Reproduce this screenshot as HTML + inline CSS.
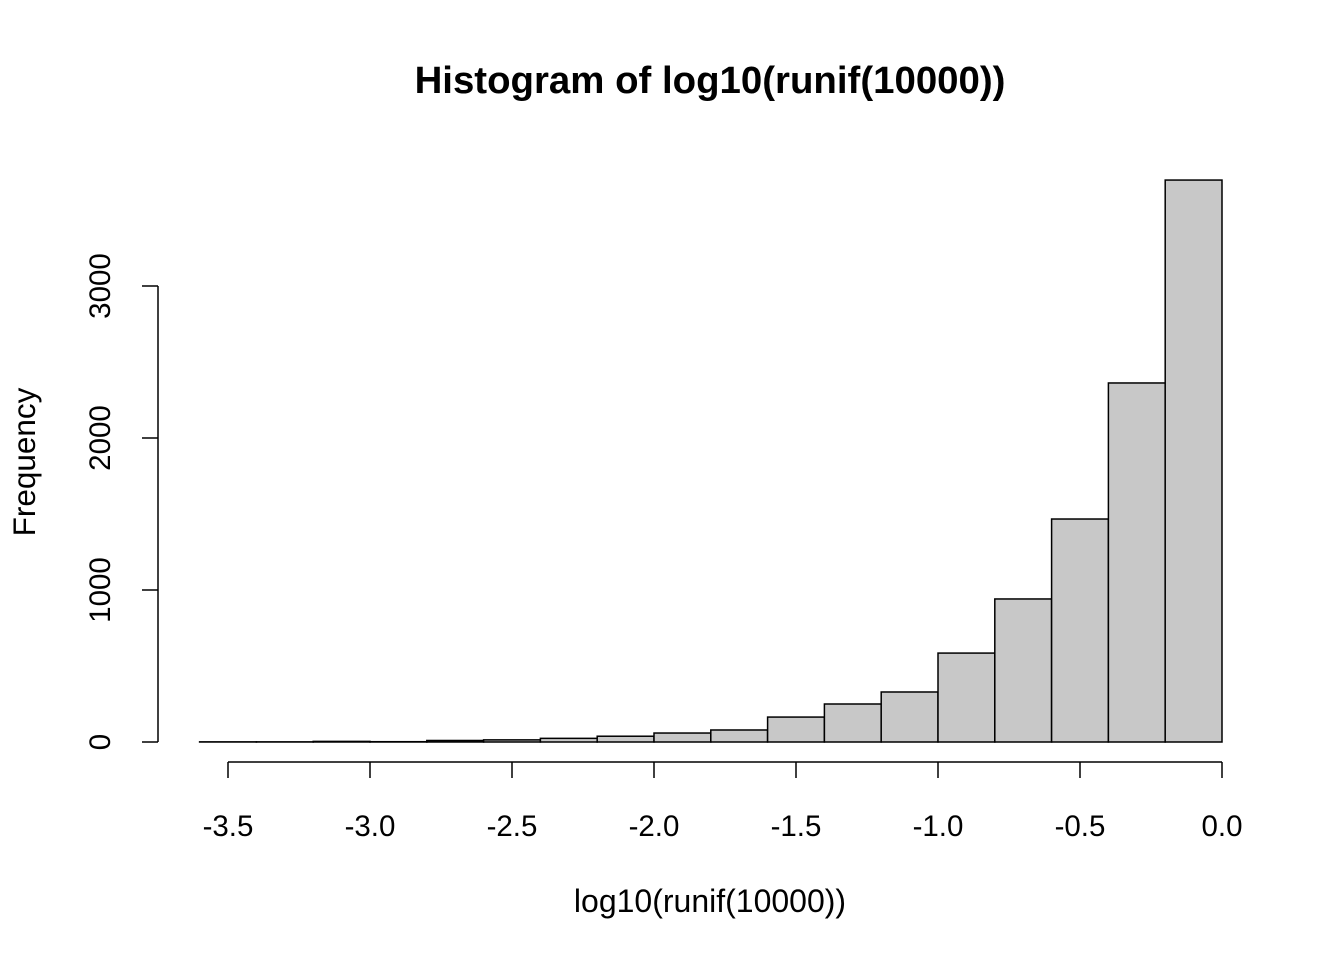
<!DOCTYPE html>
<html><head><meta charset="utf-8"><style>body{margin:0;background:#fff}svg{display:block;font-family:"Liberation Sans",Arial,sans-serif}</style></head>
<body>
<svg id="c" width="1344" height="960">
<text x="710" y="93" text-anchor="middle" font-size="38.4" font-weight="bold">Histogram of log10(runif(10000))</text>
<text x="710" y="912" text-anchor="middle" font-size="32">log10(runif(10000))</text>
<text transform="translate(35,462) rotate(-90)" text-anchor="middle" font-size="31.5">Frequency</text>
<g id="bars"></g><g id="xa"></g><g id="ya"></g>
</svg>
<script>
const breaks=[-3.6,-3.4,-3.2,-3.0,-2.8,-2.6,-2.4,-2.2,-2.0,-1.8,-1.6,-1.4,-1.2,-1.0,-0.8,-0.6,-0.4,-0.2,0];
const counts=[1,1,4,2,10,14,24,38,59,79,164,250,329,585,941,1467,2362,3697];
const xTicks=[-3.5,-3.0,-2.5,-2.0,-1.5,-1.0,-0.5,0.0];
const yTicks=[0,1000,2000,3000];
const NS="http://www.w3.org/2000/svg";
const X=v=>1222+v*284, Y=v=>742-v*0.152;
function mk(t,a,p){const e=document.createElementNS(NS,t);for(const k in a)e.setAttribute(k,a[k]);p.appendChild(e);return e;}
const bars=document.getElementById('bars');
counts.forEach((c,i)=>{const x0=X(breaks[i]),x1=X(breaks[i+1]);
const r=mk('rect',{x:x0,y:Y(c),width:x1-x0,height:Y(0)-Y(c),fill:'#c8c8c8',stroke:'#000','stroke-width':1.5},bars);

});
const xa=document.getElementById('xa');
mk('line',{x1:X(xTicks[0]),x2:X(xTicks[xTicks.length-1]),y1:762,y2:762,stroke:'#000','stroke-width':1.5},xa);
xTicks.forEach(t=>{mk('line',{x1:X(t),x2:X(t),y1:762,y2:778,stroke:'#000','stroke-width':1.5},xa);
const tx=mk('text',{x:X(t),y:836,'text-anchor':'middle','font-size':29.5},xa);tx.textContent=t.toFixed(1);

});
const ya=document.getElementById('ya');
mk('line',{x1:158,x2:158,y1:Y(yTicks[0]),y2:Y(yTicks[yTicks.length-1]),stroke:'#000','stroke-width':1.5},ya);
yTicks.forEach(t=>{mk('line',{x1:142,x2:158,y1:Y(t),y2:Y(t),stroke:'#000','stroke-width':1.5},ya);
const tx=mk('text',{transform:`translate(110,${Y(t)}) rotate(-90)`,'text-anchor':'middle','font-size':29.5},ya);tx.textContent=t;

});
</script>
</body></html>
